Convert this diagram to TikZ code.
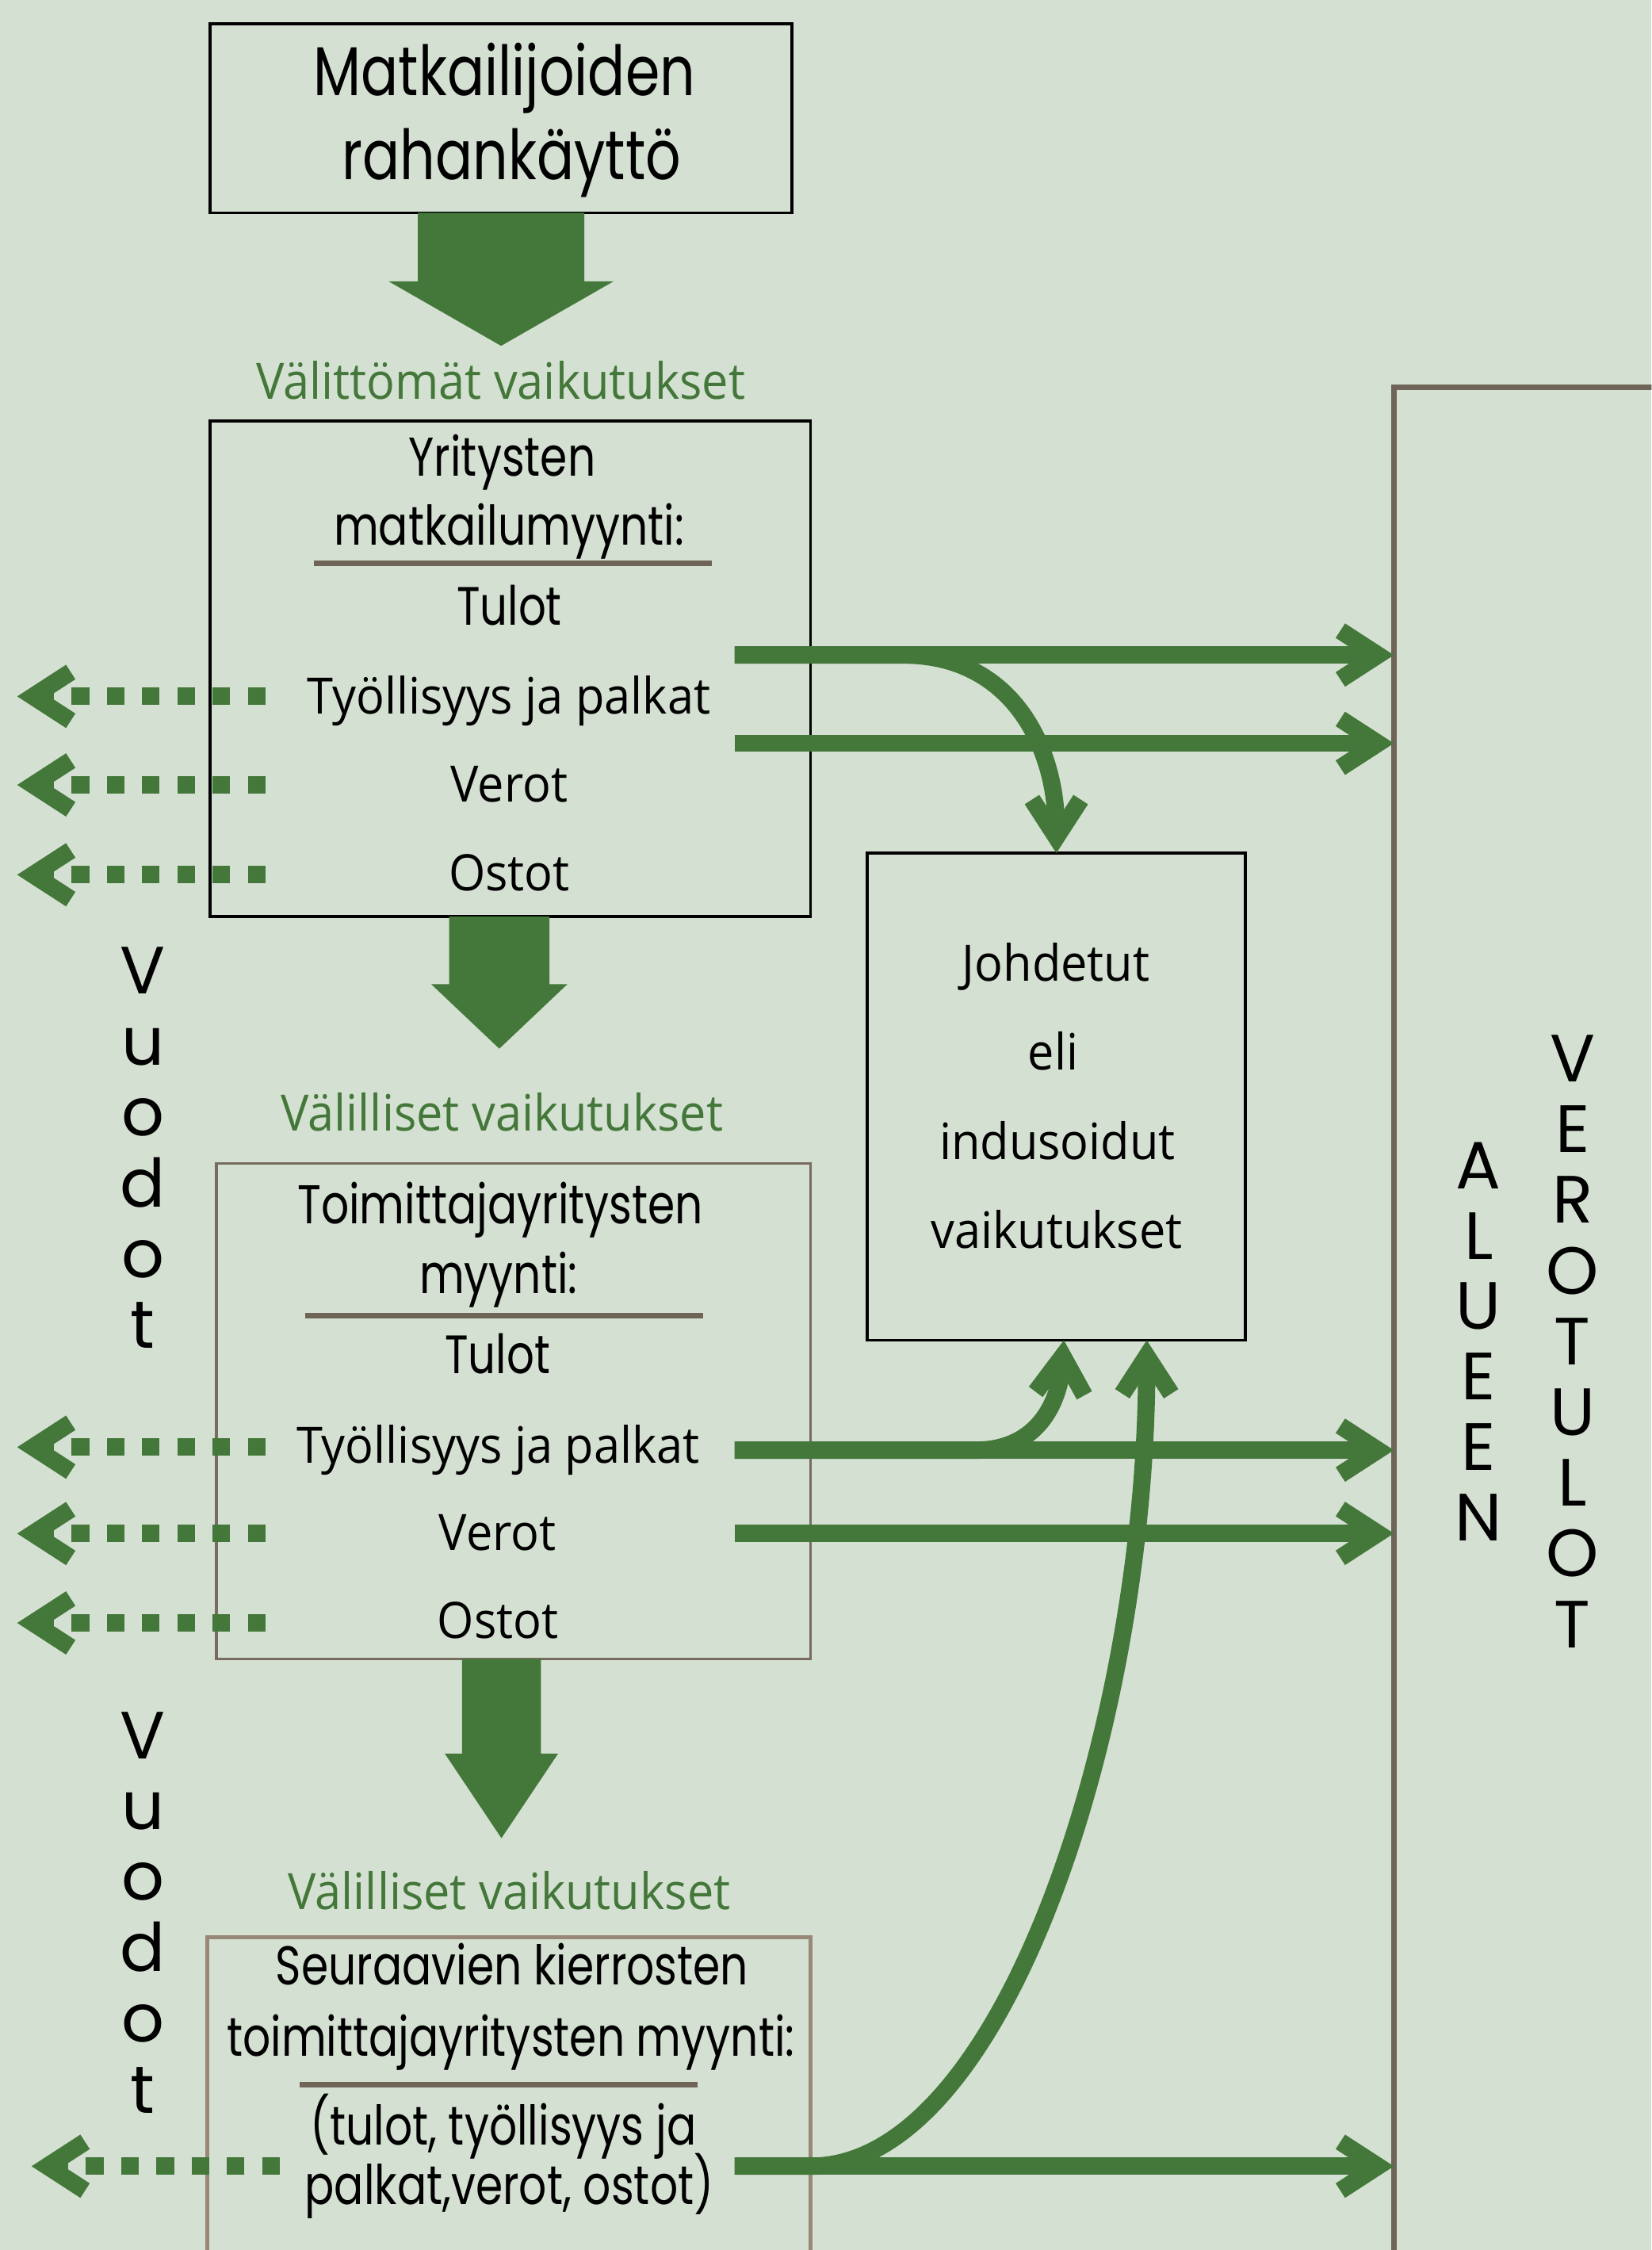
\documentclass[tikz,border=0pt]{standalone}
\usepackage{fontspec}
\usetikzlibrary{arrows.meta,calc}
\newfontfamily\futf[FakeStretch=0.80]{Poppins}
\newfontfamily\segf[FakeStretch=0.94]{Open Sans}
\newfontfamily\gotf{Poppins}
\definecolor{bg}{HTML}{D4E0D1}
\definecolor{grn}{HTML}{44773A}
\definecolor{rulec}{HTML}{6E6558}
\definecolor{boxthree}{HTML}{786C60}
\definecolor{boxfour}{HTML}{978878}
\def\U{0.018097cm}
\newcommand{\blockarrow}[5]{%
  \fill[grn] ($(#1)+(-#3,0)$) -- ($(#1)+(#3,0)$) -- ($(#2)+(#3,-#5)$) -- ($(#2)+(#4,-#5)$) -- (#2) -- ($(#2)+(-#4,-#5)$) -- ($(#2)+(-#3,-#5)$) -- cycle;}
\begin{document}
\begin{tikzpicture}[x=0.018097cm,y=-0.018097cm,
  boxblack/.style={draw=black,line width=1pt,inner sep=0pt,outer sep=0pt},
  boxbrown/.style={draw=boxthree,line width=1pt,inner sep=0pt,outer sep=0pt},
  regionbox/.style={draw=rulec,line width=2pt,inner sep=0pt,outer sep=0pt},
  txt/.style={anchor=base,inner sep=0pt,outer sep=0pt,text=black},
  bigfut/.style={txt,font=\fontsize{24.8}{30}\selectfont\futf},
  headfut/.style={txt,font=\fontsize{19.6}{24}\selectfont\futf},
  tulofut/.style={txt,font=\fontsize{19.4}{23}\selectfont\futf},
  smallfut/.style={txt,font=\fontsize{19.6}{23}\selectfont\futf},
  segtxt/.style={txt,font=\fontsize{18}{22}\selectfont\segf},
  grnlbl/.style={txt,text=grn,font=\fontsize{18}{22}\selectfont\segf},
  vletter/.style={txt,font=\fontsize{24}{28}\selectfont\gotf},
  rulel/.style={draw=rulec,line width=2pt},
  fatline/.style={draw=grn,line width=6.2pt,arrows={-Straight Barb[length=13.5pt,width=17.5pt]}},
  dotline/.style={draw=grn,line width=6.2pt,dash pattern=on 6.35pt off 6.3pt,arrows={-Straight Barb[length=13.5pt,width=17.5pt]}}
]
\useasboundingbox (0,0) rectangle (1151,1568);
\clip (0,0) rectangle (1151,1568);
\fill[bg] (0,0) rectangle (1151,1568);

% boxes
\node[boxblack,minimum width=405.5*\U,minimum height=131.7*\U] (b1) at (349.25,82.45) {};
\node[boxblack,minimum width=418.5*\U,minimum height=345.4*\U] (b2) at (355.75,466.1) {};
\node[boxbrown,minimum width=414.3*\U,minimum height=345.3*\U] (b3) at (357.85,983.35) {};
\node[boxbrown,draw=boxfour,line width=1.4pt,minimum width=420.4*\U,minimum height=270*\U] (b4) at (354.8,1485) {};
\node[boxblack,minimum width=263.5*\U,minimum height=339.5*\U] (J) at (736.25,764.25) {};
\node[regionbox,minimum width=228.5*\U,minimum height=1350.2*\U] (reg) at (1085.75,944.9) {};

% texts box 1
\node[bigfut] (t1a) at (351.6,66.3) {Matkailijoiden};
\node[bigfut] (t1b) at (356.6,125) {rahankäyttö};

\node[grnlbl] (g1) at (349,278) {Välittömät vaikutukset};

% box 2
\node[headfut] (t2a) at (350,331.5) {Yritysten};
\node[headfut] (t2b) at (354.7,380) {matkailumyynti:};
\draw[rulel] (219,392.7) -- (496,392.7);
\node[tulofut] (t2c) at (355,435.5) {Tulot};
\node[segtxt] (t2d) at (354.7,497.3) {Työllisyys ja palkat};
\node[segtxt] (t2e) at (355,559) {Verot};
\node[segtxt] (t2f) at (355,620.6) {Ostot};

\node[grnlbl] (g2) at (350,788.4) {Välilliset vaikutukset};

% box 3
\node[headfut] (t3a) at (348.7,852.7) {Toimittajayritysten};
\node[headfut] (t3b) at (347.4,901.6) {myynti:};
\draw[rulel] (212.8,917) -- (490,917);
\node[tulofut] (t3c) at (346.8,957.4) {Tulot};
\node[segtxt] (t3d) at (347.2,1019.5) {Työllisyys ja palkat};
\node[segtxt] (t3e) at (346.8,1080.3) {Verot};
\node[segtxt] (t3f) at (347,1142) {Ostot};

\node[grnlbl] (g3) at (355,1330.6) {Välilliset vaikutukset};

% box 4
\node[headfut] (t4a) at (357,1383.2) {Seuraavien kierrosten};
\node[headfut] (t4b) at (356,1433) {toimittajayritysten myynti:};
\draw[rulel] (209,1453) -- (486,1453);
\node[smallfut] (t4c) at (350.7,1494.7) {(tulot, työllisyys ja};
\node[smallfut] (t4d) at (355,1536) {palkat,verot, ostot)};

% Johdetut
\node[segtxt] (tja) at (736,683.9) {Johdetut};
\node[segtxt] (tjb) at (734,745.8) {eli};
\node[segtxt] (tjc) at (737,807.8) {indusoidut};
\node[segtxt] (tjd) at (736.5,869.8) {vaikutukset};

% vertical words
\foreach \ch [count=\i from 0] in {V,u,o,d,o,t}
  \node[vletter] (va\i) at (99.5,{692.7+49.4*\i}) {\ch};
\foreach \ch [count=\i from 0] in {V,u,o,d,o,t}
  \node[vletter] (vb\i) at (99.5,{1225.5+49.4*\i}) {\ch};
\foreach \ch [count=\i from 0] in {A,L,U,E,E,N}
  \node[vletter] (al\i) at (1030.6,{828.3+49.1*\i}) {\ch};
\foreach \ch [count=\i from 0] in {V,E,R,O,T,U,L,O,T}
  \node[vletter] (vt\i) at (1096,{753.8+49.3*\i}) {\ch};

% block arrows
\coordinate (a1s) at (b1.south);
\coordinate (a1t) at ($(a1s)+(0,92.7)$);
\blockarrow{a1s}{a1t}{58}{78.5}{45}
\coordinate (a2s) at ($(b2.south)+(-7.75,0)$);
\coordinate (a2t) at ($(a2s)+(0,92)$);
\blockarrow{a2s}{a2t}{35}{47.5}{45}
\coordinate (a3s) at ($(b3.south)+(-8.35,0)$);
\coordinate (a3t) at ($(a3s)+(0,125)$);
\blockarrow{a3s}{a3t}{27.5}{39.5}{59}

% right arrows
\coordinate (r1) at (512,456.5);
\coordinate (r2) at (512,518);
\coordinate (r3) at (512,1010.6);
\coordinate (r4) at (512,1068.6);
\coordinate (r5) at (512,1509.6);
\foreach \r in {r1,r2,r3,r4,r5}
  \draw[fatline] (\r) -- (\r -| reg.west);

% curves to Johdetut
\coordinate (c1a) at (630,456.5);
\draw[fatline] (r1) -- (c1a) .. controls (705,456.5) and ($(J.north)+(0,-74)$) .. (J.north);
\coordinate (j2) at ($(J.south)+(5.25,0)$);
\coordinate (c2a) at (680,1010.6);
\draw[fatline] (r3) -- (c2a) .. controls (724,1010.6) and ($(j2)+(-3,42)$) .. (j2);
\coordinate (j3) at ($(J.south)+(63,0)$);
\coordinate (c3a) at (565,1509.6);
\draw[fatline] (r5) -- (c3a) .. controls (700,1509.6) and ($(j3)+(0,266)$) .. (j3);

% dotted leak arrows
\coordinate (d1) at (185,485.3);  \coordinate (e1) at (12,485.3);
\coordinate (d2) at (185,547);    \coordinate (e2) at (12,547);
\coordinate (d3) at (185,609.6);  \coordinate (e3) at (12,609.6);
\coordinate (d4) at (185,1008.5); \coordinate (e4) at (12,1008.5);
\coordinate (d5) at (185,1068.7); \coordinate (e5) at (12,1068.7);
\coordinate (d6) at (185,1131);   \coordinate (e6) at (12,1131);
\coordinate (d7) at (195,1509.6); \coordinate (e7) at (22,1509.6);
\foreach \k in {1,...,7}
  \draw[dotline] (d\k) -- (e\k);
\end{tikzpicture}
\end{document}
